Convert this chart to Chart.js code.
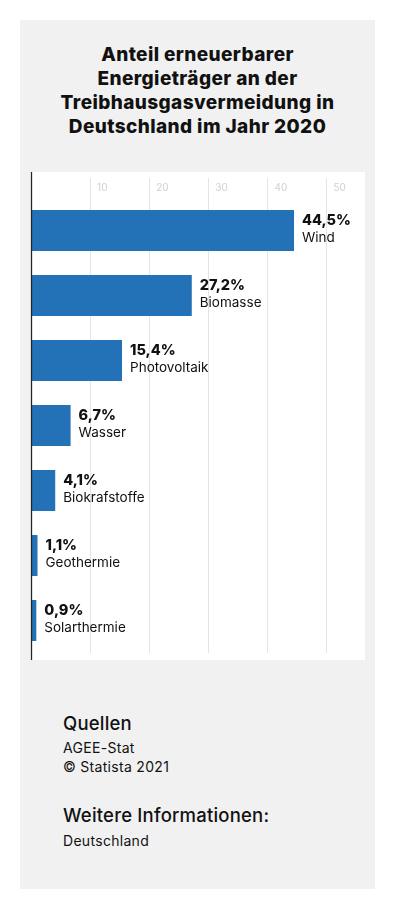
<!DOCTYPE html>
<html lang="de">
<head>
<meta charset="utf-8">
<title>Treibhausgasvermeidung 2020</title>
<script src="https://cdn.jsdelivr.net/npm/chart.js@4"></script>
<style>
  body { margin: 0; background: #fff; font-family: Inter, "Noto Sans", sans-serif; color: #111; }
  .panel { position: absolute; left: 20px; top: 20px; width: 355px; height: 869px; background: #f1f1f1; }
  .title { position: absolute; left: 0; top: 23px; width: 355px; text-align: center;
           font-size: 19px; font-weight: 800; line-height: 24px; letter-spacing: 0.4px; }
  .chartBox { position: absolute; left: 10px; top: 152px; width: 335px; height: 488px; background: #fff; }
  .src { position: absolute; left: 43px; }
  .head { font-size: 18.5px; font-weight: 500; line-height: 20px; letter-spacing: 0.2px; }
  .txt { font-size: 14px; line-height: 19px; letter-spacing: 0.3px; }
</style>
</head>
<body>
<div class="panel">
  <div class="title">Anteil erneuerbarer<br>Energieträger an der<br>Treibhausgasvermeidung in<br>Deutschland im Jahr 2020</div>
  <div class="chartBox"><canvas id="chart"></canvas></div>
  <div class="src head" style="top:693px">Quellen</div>
  <div class="src txt" style="top:718px">AGEE-Stat<br>© Statista 2021</div>
  <div class="src head" style="top:785px">Weitere Informationen:</div>
  <div class="src txt" style="top:811px">Deutschland</div>
</div>
<script>
// data
const categories = ['Wind', 'Biomasse', 'Photovoltaik', 'Wasser', 'Biokrafstoffe', 'Geothermie', 'Solarthermie'];
const shares = [44.5, 27.2, 15.4, 6.7, 4.1, 1.1, 0.9];
const tickValues = [10, 20, 30, 40, 50];

const barBlue = '#2372b8';

// value + name to the right of every bar
const barLabels = {
  id: 'barLabels',
  afterDatasetsDraw(chart) {
    const ctx = chart.ctx;
    chart.getDatasetMeta(0).data.forEach((bar, i) => {
      ctx.save();
      ctx.fillStyle = '#111';
      ctx.textBaseline = 'middle';
      ctx.textAlign = 'left';
      ctx.font = '800 14.5px Inter';
      ctx.fillText(shares[i].toFixed(1).replace('.', ',') + '%', bar.x + 8, bar.y - 10);
      ctx.font = '400 13.5px Inter';
      ctx.fillText(categories[i], bar.x + 8, bar.y + 7);
      ctx.restore();
    });
  }
};

// dark zero line running the full height of the white box
const zeroLine = {
  id: 'zeroLine',
  afterDraw(chart) {
    const ctx = chart.ctx;
    const x = Math.round(chart.scales.x.getPixelForValue(0)) + 0.5;
    ctx.save();
    ctx.strokeStyle = '#222';
    ctx.lineWidth = 1.3;
    ctx.beginPath();
    ctx.moveTo(x, 0);
    ctx.lineTo(x, chart.height);
    ctx.stroke();
    ctx.restore();
  }
};

new Chart(document.getElementById('chart'), {
  type: 'bar',
  data: {
    labels: categories,
    datasets: [{
      data: shares,
      backgroundColor: barBlue,
      categoryPercentage: 1,
      barPercentage: 0.63,
    }]
  },
  plugins: [barLabels, zeroLine],
  options: {
    indexAxis: 'y',
    responsive: true,
    maintainAspectRatio: false,
    animation: false,
    layout: { padding: { top: 1, left: 1, right: 3, bottom: 7 } },
    plugins: { legend: { display: false }, tooltip: { enabled: false } },
    scales: {
      x: {
        position: 'top',
        min: 0,
        max: 56,
        afterBuildTicks: scale => {
          scale.ticks = [0].concat(tickValues).map(v => ({ value: v }));
        },
        border: { display: false },
        grid: {
          color: c => c.tick && c.tick.value === 0 ? 'rgba(0,0,0,0)' : '#e4e4e4',
          tickLength: 20,
        },
        ticks: {
          callback: v => v === 0 ? '' : v,
          color: '#d0d0d0',
          font: { family: 'Inter', size: 10, lineHeight: '24px' },
          align: 'start',
          crossAlign: 'center',
          labelOffset: 7,
          padding: -9.5,
          autoSkip: false,
          maxRotation: 0,
        }
      },
      y: {
        display: false,
      }
    }
  }
});
</script>
</body>
</html>
